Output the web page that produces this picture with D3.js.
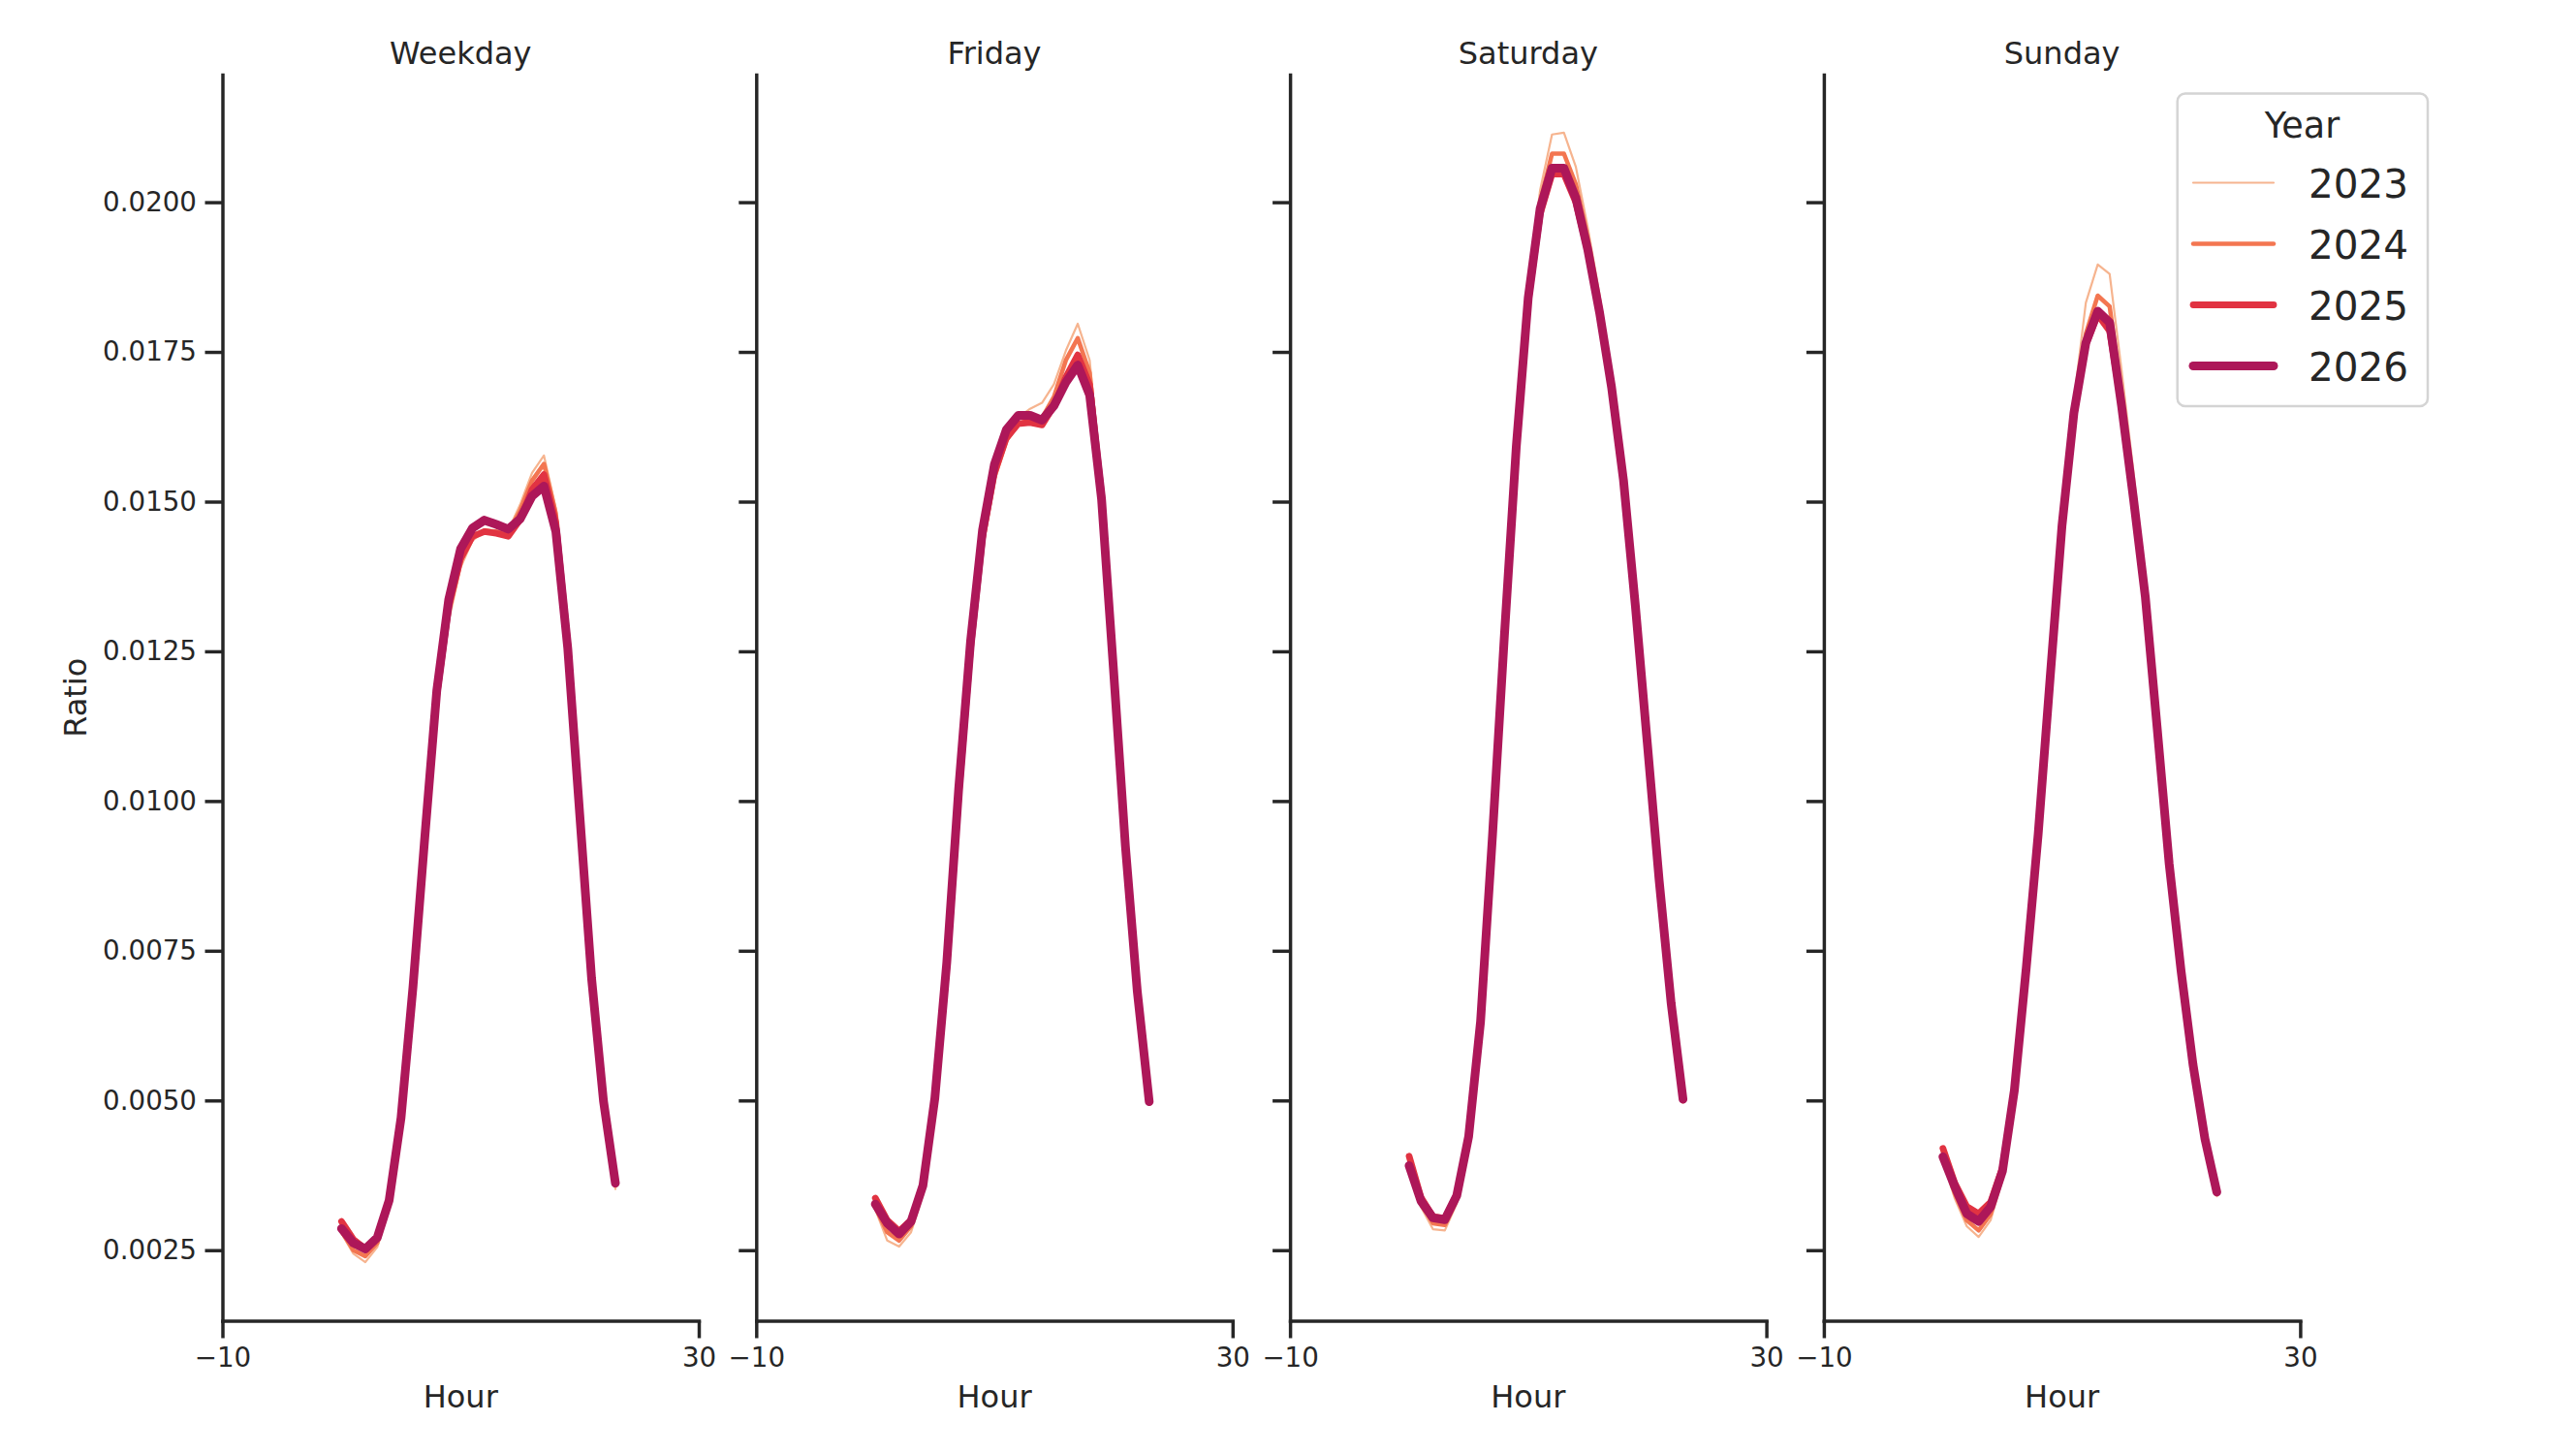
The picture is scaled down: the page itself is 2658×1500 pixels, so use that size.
<!DOCTYPE html>
<html lang="en">
<head>
  <meta charset="UTF-8">
  <title>Hourly ratio by day type</title>
  <script src="https://d3js.org/d3.v7.min.js"></script>
  <style>
    body {
      margin: 0;
      background-color: white;
    }

    svg {
      display: block;
      font-family: "DejaVu Sans", sans-serif;
    }

    .axis path, .axis line {
      stroke: #262626;
      stroke-width: 3.47;
    }

    .axis path {
      stroke-linecap: square;
    }

    .axis text {
      fill: #262626;
      font-size: 27.7px;
      font-family: "DejaVu Sans", sans-serif;
    }

    .label {
      fill: #262626;
      font-size: 32px;
    }

    .series {
      fill: none;
      stroke-linejoin: round;
      stroke-linecap: round;
    }
  </style>
</head>
<body>

<script>
  const hours = [0, 1, 2, 3, 4, 5, 6, 7, 8, 9, 10, 11, 12, 13, 14, 15, 16, 17, 18, 19, 20, 21, 22, 23];
  const days = ["Weekday", "Friday", "Saturday", "Sunday"];
  const years = [2023, 2024, 2025, 2026];
  const yTicks = [0.0025, 0.0050, 0.0075, 0.0100, 0.0125, 0.0150, 0.0175, 0.0200];
  const xTicks = [-10, 30];

  // values, one array per day and year
  const weekday2023 = [0.00278, 0.00244, 0.00230, 0.00255, 0.00318, 0.00452, 0.00664, 0.00910, 0.01150, 0.01300, 0.01390, 0.01435,
                       0.01450, 0.01450, 0.01452, 0.01495, 0.01548, 0.01577, 0.01488, 0.01272, 0.00988, 0.00708, 0.00498, 0.00352];
  const weekday2024 = [0.00282, 0.00250, 0.00240, 0.00262, 0.00325, 0.00462, 0.00676, 0.00925, 0.01165, 0.01315, 0.01400, 0.01440,
                       0.01452, 0.01450, 0.01448, 0.01485, 0.01535, 0.01563, 0.01480, 0.01268, 0.00985, 0.00708, 0.00500, 0.00358];
  const weekday2025 = [0.00298, 0.00268, 0.00252, 0.00272, 0.00333, 0.00470, 0.00686, 0.00936, 0.01176, 0.01325, 0.01405, 0.01442,
                       0.01450, 0.01447, 0.01442, 0.01470, 0.01520, 0.01545, 0.01465, 0.01262, 0.00982, 0.00705, 0.00500, 0.00363];
  const weekday2026 = [0.00286, 0.00262, 0.00252, 0.00271, 0.00333, 0.00471, 0.00689, 0.00941, 0.01184, 0.01336, 0.01421, 0.01456,
                       0.01469, 0.01462, 0.01454, 0.01471, 0.01509, 0.01526, 0.01450, 0.01255, 0.00979, 0.00704, 0.00499, 0.00362];

  const friday2023 = [0.00318, 0.00266, 0.00256, 0.00280, 0.00342, 0.00485, 0.00708, 0.00992, 0.01238, 0.01425, 0.01535, 0.01605,
                      0.01640, 0.01655, 0.01665, 0.01696, 0.01752, 0.01797, 0.01736, 0.01530, 0.01230, 0.00930, 0.00684, 0.00495];
  const friday2024 = [0.00322, 0.00280, 0.00266, 0.00290, 0.00350, 0.00492, 0.00715, 0.01000, 0.01245, 0.01430, 0.01540, 0.01602,
                      0.01630, 0.01636, 0.01640, 0.01675, 0.01736, 0.01773, 0.01715, 0.01520, 0.01225, 0.00928, 0.00683, 0.00496];
  const friday2025 = [0.00337, 0.00300, 0.00282, 0.00300, 0.00358, 0.00500, 0.00722, 0.01010, 0.01255, 0.01440, 0.01548, 0.01606,
                      0.01630, 0.01632, 0.01628, 0.01660, 0.01708, 0.01745, 0.01695, 0.01512, 0.01222, 0.00926, 0.00682, 0.00497];
  const friday2026 = [0.00327, 0.00295, 0.00277, 0.00298, 0.00358, 0.00504, 0.00730, 0.01020, 0.01267, 0.01452, 0.01562, 0.01620,
                      0.01644, 0.01644, 0.01636, 0.01660, 0.01699, 0.01728, 0.01678, 0.01504, 0.01220, 0.00925, 0.00682, 0.00498];

  const saturday2023 = [0.00390, 0.00322, 0.00285, 0.00283, 0.00328, 0.00430, 0.00622, 0.00935, 0.01272, 0.01600, 0.01860, 0.02020,
                        0.02113, 0.02116, 0.02059, 0.01958, 0.01845, 0.01710, 0.01545, 0.01330, 0.01098, 0.00866, 0.00660, 0.00496];
  const saturday2024 = [0.00395, 0.00330, 0.00295, 0.00292, 0.00335, 0.00436, 0.00628, 0.00940, 0.01275, 0.01595, 0.01848, 0.02000,
                        0.02081, 0.02081, 0.02030, 0.01940, 0.01830, 0.01700, 0.01540, 0.01328, 0.01097, 0.00866, 0.00662, 0.00500];
  const saturday2025 = [0.00407, 0.00338, 0.00306, 0.00303, 0.00343, 0.00442, 0.00634, 0.00944, 0.01278, 0.01590, 0.01835, 0.01980,
                        0.02047, 0.02047, 0.02000, 0.01918, 0.01815, 0.01692, 0.01537, 0.01327, 0.01098, 0.00868, 0.00663, 0.00502];
  const saturday2026 = [0.00391, 0.00332, 0.00304, 0.00301, 0.00341, 0.00440, 0.00632, 0.00942, 0.01276, 0.01592, 0.01840, 0.01989,
                        0.02057, 0.02057, 0.02007, 0.01921, 0.01815, 0.01691, 0.01536, 0.01326, 0.01097, 0.00867, 0.00663, 0.00502];

  const sunday2023 = [0.00400, 0.00336, 0.00290, 0.00272, 0.00300, 0.00368, 0.00508, 0.00716, 0.00940, 0.01203, 0.01466, 0.01668,
                      0.01832, 0.01896, 0.01880, 0.01720, 0.01550, 0.01360, 0.01128, 0.00898, 0.00716, 0.00558, 0.00432, 0.00340];
  const sunday2024 = [0.00410, 0.00345, 0.00300, 0.00283, 0.00310, 0.00375, 0.00512, 0.00719, 0.00942, 0.01203, 0.01461, 0.01655,
                      0.01780, 0.01844, 0.01826, 0.01680, 0.01520, 0.01348, 0.01124, 0.00897, 0.00716, 0.00559, 0.00434, 0.00344];
  const sunday2025 = [0.00420, 0.00362, 0.00323, 0.00311, 0.00330, 0.00388, 0.00520, 0.00722, 0.00943, 0.01202, 0.01456, 0.01645,
                      0.01762, 0.01812, 0.01785, 0.01660, 0.01505, 0.01340, 0.01120, 0.00895, 0.00716, 0.00560, 0.00436, 0.00346];
  const sunday2026 = [0.00406, 0.00356, 0.00311, 0.00298, 0.00322, 0.00382, 0.00517, 0.00722, 0.00945, 0.01205, 0.01460, 0.01648,
                      0.01765, 0.01818, 0.01799, 0.01660, 0.01505, 0.01340, 0.01120, 0.00895, 0.00716, 0.00560, 0.00436, 0.00347];

  const ratios = {
    Weekday: [weekday2023, weekday2024, weekday2025, weekday2026],
    Friday: [friday2023, friday2024, friday2025, friday2026],
    Saturday: [saturday2023, saturday2024, saturday2025, saturday2026],
    Sunday: [sunday2023, sunday2024, sunday2025, sunday2026]
  };

  const colors = ["#f6b48f", "#f37651", "#e13342", "#ad1759"];
  const widths = [2.2, 4.5, 6.8, 9];

  const width = 2658;
  const height = 1500;
  const panelLeft = 229.5;
  const panelStep = 550.8;
  const panelWidth = 491.5;
  const plotTop = 77;
  const plotBottom = 1362.5;

  const svg = d3.select("body").append("svg")
    .attr("width", width)
    .attr("height", height);

  const x = d3.scaleLinear().domain([-10, 30]).range([0, panelWidth]);
  const y = d3.scaleLinear().domain([0.001322, 0.02213]).range([plotBottom, plotTop]);

  const line = d3.line()
    .x((d, i) => x(hours[i]))
    .y(d => y(d));

  days.forEach((day, p) => {
    const g = svg.append("g")
      .attr("transform", `translate(${panelLeft + p * panelStep},0)`);

    g.append("g")
      .attr("class", "axis")
      .call(d3.axisLeft(y)
        .tickValues(yTicks)
        .tickSize(18)
        .tickSizeOuter(0)
        .tickPadding(8.5)
        .tickFormat(p === 0 ? d3.format(".4f") : ""));

    g.append("g")
      .attr("class", "axis")
      .attr("transform", `translate(0,${plotBottom})`)
      .call(d3.axisBottom(x)
        .tickValues(xTicks)
        .tickSize(18)
        .tickSizeOuter(0)
        .tickPadding(10));

    g.selectAll(".series")
      .data(ratios[day])
      .enter().append("path")
      .attr("class", "series")
      .attr("d", line)
      .attr("stroke", (d, i) => colors[i])
      .attr("stroke-width", (d, i) => widths[i]);

    g.append("text")
      .attr("class", "label")
      .attr("x", panelWidth / 2)
      .attr("y", 66)
      .attr("text-anchor", "middle")
      .text(day);

    g.append("text")
      .attr("class", "label")
      .attr("x", panelWidth / 2)
      .attr("y", 1451.5)
      .attr("text-anchor", "middle")
      .text("Hour");
  });

  svg.append("text")
    .attr("class", "label")
    .attr("transform", `translate(89,${(plotTop + plotBottom) / 2}) rotate(-90)`)
    .attr("text-anchor", "middle")
    .text("Ratio");

  // legend
  const legend = svg.append("g");
  legend.append("rect")
    .attr("x", 2246.7)
    .attr("y", 96.5)
    .attr("width", 258.3)
    .attr("height", 322.5)
    .attr("rx", 8)
    .attr("fill", "white")
    .attr("fill-opacity", 0.8)
    .attr("stroke", "#d4d4d4")
    .attr("stroke-width", 2.5);

  legend.append("text")
    .attr("x", 2375.5)
    .attr("y", 142)
    .attr("text-anchor", "middle")
    .attr("fill", "#262626")
    .attr("font-size", "36.5px")
    .text("Year");

  years.forEach((yr, i) => {
    const cy = 188.5 + i * 63;
    legend.append("line")
      .attr("x1", 2263)
      .attr("x2", 2346)
      .attr("y1", cy)
      .attr("y2", cy)
      .attr("stroke", colors[i])
      .attr("stroke-width", widths[i])
      .attr("stroke-linecap", "round");
    legend.append("text")
      .attr("x", 2382)
      .attr("y", cy + 15)
      .attr("fill", "#262626")
      .attr("font-size", "40.5px")
      .text(yr);
  });
</script>

</body>
</html>
